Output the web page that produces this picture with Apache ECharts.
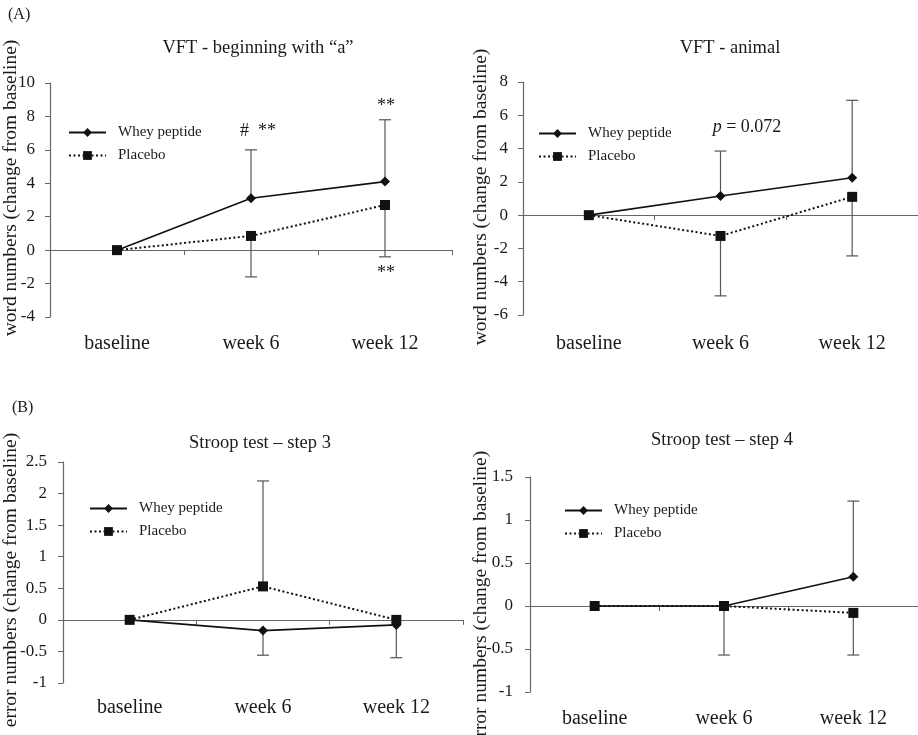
<!DOCTYPE html>
<html>
<head>
<meta charset="utf-8">
<script src="https://cdn.jsdelivr.net/npm/echarts@6/dist/echarts.min.js"></script>
<style>
  html, body { margin: 0; padding: 0; background: #fff; }
  #chart { width: 918px; height: 735px; }
</style>
</head>
<body>
<div id="chart"></div>
<script>
var categories = ['baseline', 'week 6', 'week 12'];

// VFT - beginning with "a"
var vftA_whey = [0, 3.1, 4.1];
var vftA_wheyErr = [null, 6.0, 7.8];
var vftA_placebo = [0, 0.85, 2.7];
var vftA_placeboErr = [null, -1.6, -0.4];

// VFT - animal
var vftAnimal_whey = [0, 1.15, 2.25];
var vftAnimal_wheyErr = [null, 3.85, 6.9];
var vftAnimal_placebo = [0, -1.25, 1.1];
var vftAnimal_placeboErr = [null, -4.85, -2.45];

// Stroop test - step 3
var stroop3_whey = [0, -0.17, -0.08];
var stroop3_wheyErr = [null, -0.56, -0.6];
var stroop3_placebo = [0, 0.53, 0];
var stroop3_placeboErr = [null, 2.2, null];

// Stroop test - step 4
var stroop4_whey = [0, 0, 0.34];
var stroop4_wheyErr = [null, null, 1.22];
var stroop4_placebo = [0, 0, -0.08];
var stroop4_placeboErr = [null, -0.57, -0.57];

var FONT = '"Liberation Serif", "Times New Roman", serif';
var TEXT = '#1a1a1a';
var AXIS = '#666';

var chart = echarts.init(document.getElementById('chart'), null, { renderer: 'canvas' });

var panels = [
  { title: 'VFT - beginning with \u201ca\u201d', grid: { left: 50, top: 83, width: 402, height: 234 },
    min: -4, max: 10, interval: 2, labelMargin: 15, catMargin: 17,
    whey: vftA_whey, wheyErr: vftA_wheyErr, placebo: vftA_placebo, placeboErr: vftA_placeboErr,
    titleX: 258, titleY: 39, legend: { left: 68, top: 125 } },
  { title: 'VFT - animal', grid: { left: 523, top: 82, width: 398, height: 233 },
    min: -6, max: 8, interval: 2, labelMargin: 15, catMargin: 19,
    whey: vftAnimal_whey, wheyErr: vftAnimal_wheyErr, placebo: vftAnimal_placebo, placeboErr: vftAnimal_placeboErr,
    titleX: 730, titleY: 39, legend: { left: 538, top: 126 } },
  { title: 'Stroop test \u2013 step 3', grid: { left: 63, top: 462, width: 400, height: 221 },
    min: -1, max: 2.5, interval: 0.5, labelMargin: 16, catMargin: 15,
    whey: stroop3_whey, wheyErr: stroop3_wheyErr, placebo: stroop3_placebo, placeboErr: stroop3_placeboErr,
    titleX: 260, titleY: 434, legend: { left: 89, top: 501 } },
  { title: 'Stroop test \u2013 step 4', grid: { left: 530, top: 477, width: 391, height: 215 },
    min: -1, max: 1.5, interval: 0.5, labelMargin: 17, catMargin: 17,
    whey: stroop4_whey, wheyErr: stroop4_wheyErr, placebo: stroop4_placebo, placeboErr: stroop4_placeboErr,
    titleX: 722, titleY: 431, legend: { left: 564, top: 503 } }
];

function errorSeries(gi, means, ends) {
  var data = [];
  for (var i = 0; i < means.length; i++) {
    if (ends[i] != null) data.push([i, means[i], ends[i]]);
  }
  return {
    type: 'custom',
    name: 'sd',
    xAxisIndex: gi * 2,
    yAxisIndex: gi,
    z: 1,
    silent: true,
    data: data,
    renderItem: function (params, api) {
      var p0 = api.coord([api.value(0), api.value(1)]);
      var p1 = api.coord([api.value(0), api.value(2)]);
      var st = { stroke: '#555', lineWidth: 1.2 };
      return {
        type: 'group',
        children: [
          { type: 'line', shape: { x1: p0[0], y1: p0[1], x2: p1[0], y2: p1[1] }, style: st },
          { type: 'line', shape: { x1: p1[0] - 6, y1: p1[1], x2: p1[0] + 6, y2: p1[1] }, style: st }
        ]
      };
    }
  };
}

var grids = [], xAxes = [], yAxes = [], series = [], titles = [], legends = [];

panels.forEach(function (p, gi) {
  grids.push(p.grid);
  // axis line across zero with ticks between categories
  xAxes.push({
    type: 'category', gridIndex: gi, data: categories,
    axisLine: { onZero: true, lineStyle: { color: AXIS, width: 1.2 } },
    axisTick: { show: true, length: 5, lineStyle: { color: AXIS } },
    axisLabel: { show: false },
    splitLine: { show: false }
  });
  // category labels at the bottom of the plot
  xAxes.push({
    type: 'category', gridIndex: gi, data: categories, position: 'bottom',
    axisLine: { show: false, onZero: false },
    axisTick: { show: false },
    axisLabel: { fontFamily: FONT, fontSize: 20, color: TEXT, margin: p.catMargin },
    splitLine: { show: false }
  });
  yAxes.push({
    type: 'value', gridIndex: gi, min: p.min, max: p.max, interval: p.interval,
    axisLine: { show: true, lineStyle: { color: AXIS, width: 1.2 } },
    axisTick: { show: true, length: 5, lineStyle: { color: AXIS } },
    axisLabel: { fontFamily: FONT, fontSize: 17, color: TEXT, margin: p.labelMargin },
    splitLine: { show: false }
  });
  series.push(errorSeries(gi, p.whey, p.wheyErr));
  series.push(errorSeries(gi, p.placebo, p.placeboErr));
  series.push({
    type: 'line', name: 'Whey peptide', xAxisIndex: gi * 2, yAxisIndex: gi, z: 3,
    data: p.whey, symbol: 'diamond', symbolSize: 10,
    lineStyle: { color: '#111', width: 1.6 },
    itemStyle: { color: '#111' }
  });
  series.push({
    type: 'line', name: 'Placebo', xAxisIndex: gi * 2, yAxisIndex: gi, z: 2,
    data: p.placebo, symbol: 'rect', symbolSize: 10,
    lineStyle: { color: '#111', width: 2, type: [2, 2.5] },
    itemStyle: { color: '#111' }
  });
  titles.push({
    text: p.title, left: p.titleX, top: p.titleY, textAlign: 'center', padding: 0,
    textStyle: { fontFamily: FONT, fontSize: 18.5, fontWeight: 'normal', color: TEXT }
  });
  legends.push({
    data: ['Whey peptide', 'Placebo'], orient: 'vertical',
    left: p.legend.left, top: p.legend.top, padding: 0,
    itemWidth: 37, itemHeight: 11, itemGap: 8,
    textStyle: { fontFamily: FONT, fontSize: 15, color: TEXT, padding: [0, 0, 0, 7] }
  });
});

function yName(text, x, y) {
  return {
    type: 'text', x: x, y: y, rotation: Math.PI / 2,
    style: { text: text, fontFamily: FONT, fontSize: 19.5, fill: TEXT, textAlign: 'center', textVerticalAlign: 'middle' }
  };
}
function note(text, x, y, size) {
  return {
    type: 'text', x: x, y: y,
    style: { text: text, fontFamily: FONT, fontSize: size || 18, fill: TEXT, textAlign: 'center', textVerticalAlign: 'middle' }
  };
}

chart.setOption({
  backgroundColor: '#fff',
  animation: false,
  title: titles,
  legend: legends,
  grid: grids,
  xAxis: xAxes,
  yAxis: yAxes,
  series: series,
  graphic: [
    { type: 'text', x: 8, y: 15, style: { text: '(A)', fontFamily: FONT, fontSize: 16, fill: TEXT, textVerticalAlign: 'middle' } },
    { type: 'text', x: 12, y: 408, style: { text: '(B)', fontFamily: FONT, fontSize: 16, fill: TEXT, textVerticalAlign: 'middle' } },
    yName('word numbers (change from baseline)', 11, 188),
    yName('word numbers (change from baseline)', 481, 197),
    yName('error numbers (change from baseline)', 11, 580),
    yName('error numbers (change from baseline)', 481, 598),
    note('#  **', 258, 131),
    note('**', 386, 106),
    note('**', 386, 273),
    {
      type: 'text', x: 747, y: 127,
      style: {
        text: '{i|p} = 0.072', fontFamily: FONT, fontSize: 18, fill: TEXT,
        textAlign: 'center', textVerticalAlign: 'middle',
        rich: { i: { fontFamily: FONT, fontSize: 18, fontStyle: 'italic', fill: TEXT } }
      }
    }
  ]
});
</script>
</body>
</html>
